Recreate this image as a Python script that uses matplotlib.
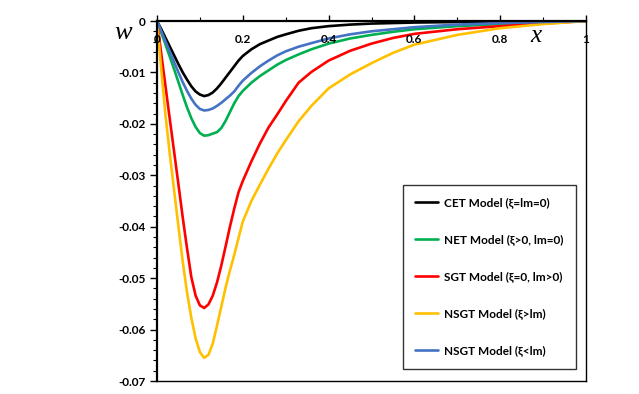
import matplotlib
matplotlib.use("Agg")
import matplotlib.pyplot as plt
from matplotlib.ticker import MultipleLocator

x = [0, 0.01, 0.02, 0.03, 0.04, 0.05, 0.06, 0.07, 0.08, 0.09, 0.10, 0.11, 0.12,
     0.13, 0.14, 0.15, 0.16, 0.17, 0.18, 0.19, 0.20, 0.22, 0.24, 0.26, 0.28, 0.30,
     0.33, 0.36, 0.40, 0.45, 0.50, 0.55, 0.60, 0.70, 0.80, 0.90, 1.0]

cet = [0, -0.0016, -0.0033, -0.0050, -0.0067, -0.0084, -0.0100, -0.0114, -0.0127,
       -0.0137, -0.0143, -0.0146, -0.0144, -0.0139, -0.0131, -0.0121, -0.0110,
       -0.0099, -0.0088, -0.0077, -0.0068, -0.0055, -0.0045, -0.0038, -0.0031,
       -0.0026, -0.0019, -0.0014, -0.0010, -0.0007, -0.0005, -0.0004, -0.0003,
       -0.0002, -0.0001, -0.00005, 0]
net = [0, -0.0023, -0.0046, -0.0070, -0.0094, -0.0119, -0.0144, -0.0168, -0.0189,
       -0.0206, -0.0218, -0.0223, -0.0222, -0.0219, -0.0216, -0.0208, -0.0194,
       -0.0177, -0.0160, -0.0146, -0.0136, -0.0120, -0.0107, -0.0096, -0.0085,
       -0.0076, -0.0065, -0.0055, -0.0044, -0.0034, -0.0027, -0.0021, -0.0016,
       -0.0010, -0.0006, -0.0003, 0]
sgt = [0, -0.0064, -0.0128, -0.0192, -0.0255, -0.0318, -0.0382, -0.0442, -0.0498,
       -0.0534, -0.0553, -0.0558, -0.0551, -0.0534, -0.0508, -0.0475, -0.0438,
       -0.0400, -0.0365, -0.0333, -0.0311, -0.0273, -0.0238, -0.0207, -0.0182,
       -0.0156, -0.0120, -0.0099, -0.0077, -0.0058, -0.0044, -0.0033, -0.0025,
       -0.0016, -0.0010, -0.0005, 0]
nsgt_gt = [0, -0.0095, -0.0185, -0.0260, -0.0330, -0.0400, -0.0468, -0.0528, -0.0577,
           -0.0617, -0.0644, -0.0655, -0.0649, -0.0627, -0.0592, -0.0555, -0.0518,
           -0.0485, -0.0455, -0.0422, -0.0390, -0.0350, -0.0318, -0.0287, -0.0258,
           -0.0232, -0.0195, -0.0165, -0.0131, -0.0104, -0.0082, -0.0062, -0.0046,
           -0.0027, -0.0014, -0.0006, 0]
nsgt_lt = [0, -0.0020, -0.0040, -0.0060, -0.0080, -0.0100, -0.0119, -0.0136, -0.0151,
           -0.0163, -0.0171, -0.0174, -0.0173, -0.0170, -0.0165, -0.0159, -0.0152,
           -0.0145, -0.0137, -0.0126, -0.0116, -0.0101, -0.0088, -0.0077, -0.0067,
           -0.0059, -0.0050, -0.0043, -0.0034, -0.0026, -0.0020, -0.0016, -0.0012,
           -0.0007, -0.0004, -0.0002, 0]

labels = ["CET Model (ξ=lm=0)", "NET Model (ξ>0, lm=0)", "SGT Model (ξ=0, lm>0)",
          "NSGT Model (ξ>lm)", "NSGT Model (ξ<lm)"]
colors = ["#000000", "#00B050", "#FF0000", "#FFC000", "#4472C4"]

x_ticks = [0, 0.2, 0.4, 0.6, 0.8, 1]
x_ticklabels = ["0", "0.2", "0.4", "0.6", "0.8", "1"]
y_ticks = [0, -0.01, -0.02, -0.03, -0.04, -0.05, -0.06, -0.07]
y_ticklabels = ["0", "-0.01", "-0.02", "-0.03", "-0.04", "-0.05", "-0.06", "-0.07"]

fam = ["Lato", "DejaVu Sans"]
plt.rcParams["font.family"] = fam

fig = plt.figure(figsize=(6.39, 3.94), dpi=100)
ax = fig.add_axes([157/639, 1-381/394, (586-157)/639, (381-21)/394])

for ys, c, lab in zip([cet, net, sgt, nsgt_gt, nsgt_lt], colors, labels):
    ax.plot(x, ys, color=c, lw=1.9, label=lab, solid_capstyle="round",
            solid_joinstyle="round")

ax.set_xlim(0, 1)
ax.set_ylim(-0.07, 0)

ax.xaxis.tick_top()
ax.set_xticks(x_ticks)
ax.set_xticklabels(x_ticklabels)
ax.xaxis.set_minor_locator(MultipleLocator(0.1))
ax.tick_params(axis="x", which="major", direction="out", length=4, width=1,
               pad=-21, labelsize=8.5)
ax.tick_params(axis="x", which="minor", direction="out", length=3, width=0.8)
for t in ax.get_xticklabels():
    t.set_fontweight("bold")
ax.xaxis.set_zorder(3)

ax.set_yticks(y_ticks)
ax.set_yticklabels(y_ticklabels)
ax.yaxis.set_minor_locator(MultipleLocator(0.002))
ax.tick_params(axis="y", which="major", direction="out", length=5, width=1,
               pad=3, labelsize=8.5)
ax.tick_params(axis="y", which="minor", direction="out", length=3, width=0.8)
for t in ax.get_yticklabels():
    t.set_fontweight("bold")

for s in ax.spines.values():
    s.set_linewidth(1.0)
ax.spines["top"].set_linewidth(1.6)
ax.spines["left"].set_linewidth(1.6)

ax.set_xlabel("x", fontsize=18, fontstyle="italic", family="Liberation Serif",
              va="center", ha="center")
ax.xaxis.set_label_position("top")
ax.xaxis.set_label_coords((536-157)/429, 1-(42-21)/360)
ax.set_ylabel("w", fontsize=19, fontstyle="italic", family="Liberation Serif",
              rotation=0, va="center", ha="center")
ax.yaxis.set_label_coords((123-157)/429, 1-(33-21)/360)

leg = ax.legend(loc="upper left", bbox_to_anchor=((403-157)/429, 1-(185-21)/360),
                borderaxespad=0, prop={"family": fam, "weight": "bold", "size": 8.5},
                labelspacing=2.2, borderpad=1.05, handlelength=1.95, handletextpad=0.5,
                fancybox=False, framealpha=1, edgecolor="#333333")
leg.get_frame().set_linewidth(1.0)

fig.savefig("out.png", dpi=100)
